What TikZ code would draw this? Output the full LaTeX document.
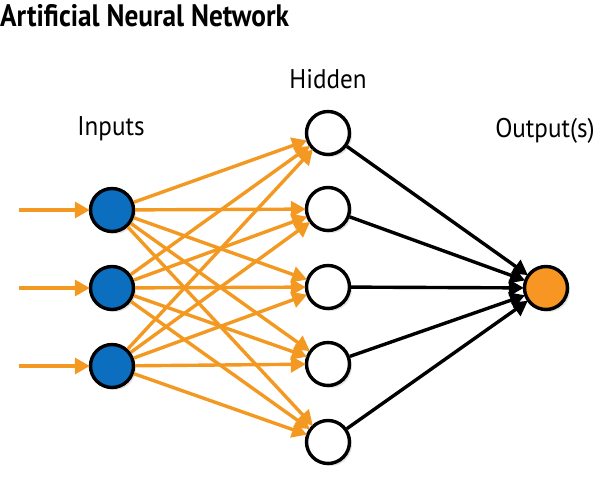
\documentclass[tikz,border=0pt]{standalone}
\usepackage{fontspec}
\setmainfont{PT Sans}
\newfontfamily\titlefont[FakeStretch=0.88]{PT Sans Bold}
\newfontfamily\labelfont[FakeStretch=0.93]{PT Sans}
\usetikzlibrary{arrows.meta,shadows}
\definecolor{ann}{RGB}{243,153,33}
\definecolor{inblue}{RGB}{12,110,190}
\definecolor{outor}{RGB}{247,150,35}
\begin{document}
\begin{tikzpicture}[x=1pt,y=-1pt,
  neuron/.style={circle,draw=black,line width=3.4pt,minimum size=43pt,inner sep=0pt,
    drop shadow={shadow xshift=2.5pt,shadow yshift=-2.5pt,opacity=0.22}},
  inneuron/.style={neuron,fill=inblue},
  hidneuron/.style={neuron,fill=white},
  outneuron/.style={neuron,fill=outor},
  oarrow/.style={draw=ann,line width=3.4pt,-{Triangle[length=15pt,width=16pt]},shorten >=-1pt},
  karrow/.style={draw=black,line width=3.4pt,-{Triangle[length=15pt,width=16pt]},shorten >=-1pt},
  lbl/.style={font=\labelfont\fontsize{27}{32}\selectfont,inner sep=0pt}]
\useasboundingbox (0,0) rectangle (600,489);
\node[anchor=west,inner sep=0pt,font=\titlefont\fontsize{31}{36}\selectfont] (title) at (0,16) {Artificial Neural Network};
\foreach \i/\y in {1/210,2/288,3/366}{
  \node[inneuron] (i\i) at (112,\y) {};
  \coordinate (s\i) at (19,\y);
}
\foreach \j/\y in {1/133,2/209,3/287,4/364,5/442}{
  \node[hidneuron] (h\j) at (328,\y) {};
}
\node[outneuron] (o) at (546,288) {};
\foreach \i in {1,2,3}{
  \draw[oarrow] (s\i) -- (i\i);
  \foreach \j in {1,...,5}{ \draw[oarrow] (i\i) -- (h\j); }
}
\foreach \j in {1,...,5}{ \draw[karrow] (h\j) -- (o); }
\node[lbl] (linputs) at (111,129) {Inputs};
\node[lbl] (lhidden) at (328,79) {Hidden};
\node[lbl] (lout) at (545,131) {Output(s)};
\end{tikzpicture}
\end{document}
